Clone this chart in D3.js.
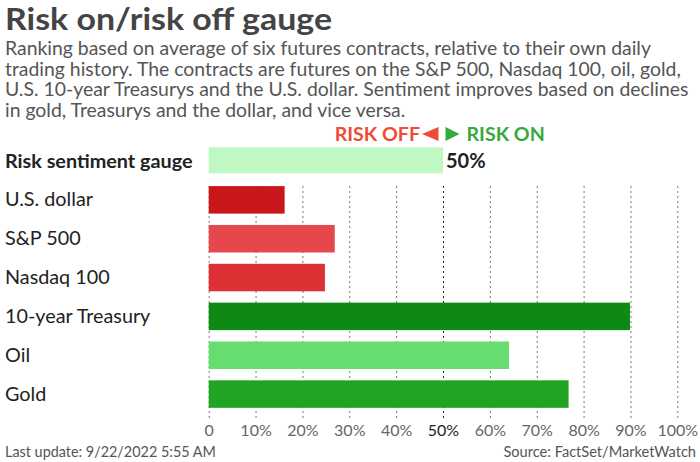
<!DOCTYPE html>
<html>
<head>
<meta charset="utf-8">
<script src="https://cdn.jsdelivr.net/npm/d3@7"></script>
<style>
  html, body { margin: 0; padding: 0; background: #fff; }
  svg { display: block; font-family: Lato, "Open Sans", sans-serif; }
</style>
</head>
<body>
<svg id="chart" width="700" height="462"></svg>
<script>
var title = "Risk on/risk off gauge";
var subtitleLines = [
  "Ranking based on average of six futures contracts, relative to their own daily",
  "trading history. The contracts are futures on the S&P 500, Nasdaq 100, oil, gold,",
  "U.S. 10-year Treasurys and the U.S. dollar. Sentiment improves based on declines",
  "in gold, Treasurys and the dollar, and vice versa."
];
var categories = ["Risk sentiment gauge", "U.S. dollar", "S&P 500", "Nasdaq 100", "10-year Treasury", "Oil", "Gold"];
var values = [0.50, 0.162, 0.269, 0.248, 0.899, 0.641, 0.768];
var barColors = ["#bff8c2", "#c8161b", "#e5474c", "#de3135", "#0e8a14", "#67dd6f", "#1fa522"];
var tickValues = [0, 0.1, 0.2, 0.3, 0.4, 0.5, 0.6, 0.7, 0.8, 0.9, 1];
var riskOff = "RISK OFF";
var riskOn = "RISK ON";
var footLeft = "Last update: 9/22/2022 5:55 AM";
var footRight = "Source: FactSet/MarketWatch";

var svg = d3.select("#chart");
var width = 700, height = 462;

var x = d3.scaleLinear().domain([0, 1]).range([208.7, 677.3]);
var y = d3.scaleBand().domain(categories).range([141.6, 413.5])
  .paddingInner(0.292).paddingOuter(0.146);

// heading
svg.append("text")
  .attr("x", 5).attr("y", 29.5)
  .attr("font-size", 30).attr("font-weight", 700)
  .attr("fill", "#444")
  .attr("textLength", 327)
  .attr("lengthAdjust", "spacingAndGlyphs")
  .text(title);

svg.append("g").selectAll("text")
  .data(subtitleLines)
  .join("text")
  .attr("x", 5)
  .attr("y", (d, i) => 55 + i * 20.6)
  .attr("font-size", 19.4)
  .attr("fill", "#555")
  .text(d => d);

// grid + axis
var gridTop = 183, gridBottom = 418;
var axis = svg.append("g")
  .attr("transform", `translate(0,${gridBottom})`)
  .call(d3.axisBottom(x)
    .tickValues(tickValues)
    .tickSize(-(gridBottom - gridTop))
    .tickPadding(7)
    .tickFormat(d => d === 0 ? "0" : d3.format(".0%")(d)));

axis.select(".domain").remove();
axis.selectAll(".tick line")
  .attr("stroke", d => d === 0.5 ? "#222" : "#777")
  .attr("stroke-width", 1)
  .attr("stroke-dasharray", "2,3");
axis.selectAll(".tick text")
  .attr("font-family", "Lato, sans-serif")
  .attr("font-size", 16)
  .attr("fill", d => d === 0.5 ? "#222" : "#666");

// bars
svg.append("g").selectAll("rect")
  .data(categories)
  .join("rect")
  .attr("x", x(0))
  .attr("y", d => y(d))
  .attr("width", (d, i) => x(values[i]) - x(0))
  .attr("height", (d, i) => i === 0 ? y.bandwidth() - 1.5 : y.bandwidth())
  .attr("fill", (d, i) => barColors[i]);

// category labels
svg.append("g").selectAll("text")
  .data(categories)
  .join("text")
  .attr("x", 5)
  .attr("y", d => y(d) + y.bandwidth() / 2 + 6.5)
  .attr("font-size", 19.8)
  .attr("font-weight", (d, i) => i === 0 ? 700 : 400)
  .attr("fill", "#222")
  .text(d => d);

// value label on the gauge
svg.append("text")
  .attr("x", x(values[0]) + 3)
  .attr("y", y(categories[0]) + y.bandwidth() / 2 + 7)
  .attr("font-size", 20).attr("font-weight", 700)
  .attr("fill", "#222")
  .text(d3.format(".0%")(values[0]));

// risk off / risk on marker
var mid = x(0.5);
var markY = 134;
svg.append("text")
  .attr("x", mid - 23).attr("y", 140.5)
  .attr("text-anchor", "end")
  .attr("font-size", 19.6).attr("font-weight", 700)
  .attr("fill", "#f04b37")
  .text(riskOff);
svg.append("path")
  .attr("d", `M${mid - 21},${markY} L${mid - 4.5},${markY - 7} L${mid - 4.5},${markY + 7} Z`)
  .attr("fill", "#f04b37");
svg.append("path")
  .attr("d", `M${mid + 16.5},${markY} L${mid + 2.5},${markY - 7} L${mid + 2.5},${markY + 7} Z`)
  .attr("fill", "#3aa93c");
svg.append("text")
  .attr("x", mid + 23.5).attr("y", 140.5)
  .attr("font-size", 19.6).attr("font-weight", 700)
  .attr("fill", "#3aa93c")
  .text(riskOn);

// footer
svg.append("text")
  .attr("x", 5).attr("y", 457)
  .attr("font-size", 14.4).attr("fill", "#555")
  .text(footLeft);
svg.append("text")
  .attr("x", 696).attr("y", 457)
  .attr("text-anchor", "end")
  .attr("font-size", 14.6).attr("fill", "#555")
  .text(footRight);
</script>
</body>
</html>
